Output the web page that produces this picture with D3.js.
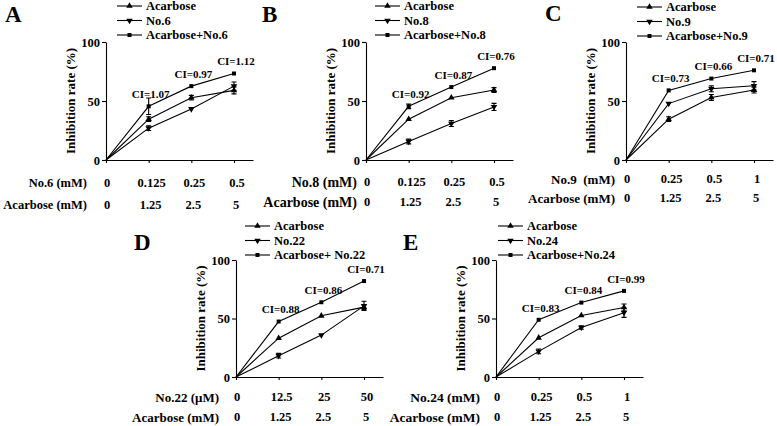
<!DOCTYPE html>
<html>
<head>
<meta charset="utf-8">
<script src="https://cdn.jsdelivr.net/npm/d3@7"></script>
<style>
  body { margin: 0; background: #fff; }
  text { font-family: "Liberation Serif", "Times New Roman", serif; font-weight: bold; fill: #000; }
</style>
</head>
<body>
<script>
const svgWidth = 777
const svgHeight = 426

// data, one entry per panel
const panelNames = ["A", "B", "C", "D", "E"]
const compoundNames = ["No.6", "No.8", "No.9", "No.22", "No.24"]
const comboNames = ["Acarbose+No.6", "Acarbose+No.8", "Acarbose+No.9", "Acarbose+ No.22", "Acarbose+No.24"]
const compoundAxisNames = ["No.6 (mM)", "No.8 (mM)", "No.9  (mM)", "No.22 (\u03bcM)", "No.24 (mM)"]
const compoundDoses = [
  ["0", "0.125", "0.25", "0.5"],
  ["0", "0.125", "0.25", "0.5"],
  ["0", "0.25", "0.5", "1"],
  ["0", "12.5", "25", "50"],
  ["0", "0.25", "0.5", "1"]
]
const acarboseDoses = ["0", "1.25", "2.5", "5"]

const acarboseValues = [
  [0, 34.6, 52.8, 59.0],
  [0, 34.6, 52.8, 59.3],
  [0, 34.6, 53.0, 59.3],
  [0, 33.2, 52.3, 59.7],
  [0, 33.5, 52.6, 59.4]
]
const acarboseErr = [
  [0, 2, 2, 3],
  [0, 1, 1, 2],
  [0, 2, 2.5, 2.5],
  [0, 1, 1, 2],
  [0, 1, 1, 3]
]
const compoundValues = [
  [0, 27.0, 43.3, 62.6],
  [0, 15.7, 30.9, 45.0],
  [0, 47.8, 60.4, 62.9],
  [0, 18.2, 35.8, 60.8],
  [0, 21.9, 42.3, 55.0]
]
const compoundErr = [
  [0, 2, 1, 3.5],
  [0, 2, 2.5, 3],
  [0, 1, 2.5, 3.5],
  [0, 2, 1, 4],
  [0, 2, 1.5, 4]
]
const comboValues = [
  [0, 45.5, 62.6, 73.3],
  [0, 45.5, 61.8, 77.8],
  [0, 59.0, 69.0, 76.0],
  [0, 47.4, 63.9, 82.0],
  [0, 48.9, 63.6, 73.6]
]
const comboErr = [
  [0, 7, 1, 1],
  [0, 2, 1, 1],
  [0, 1, 1, 1],
  [0, 1, 1, 1],
  [0, 1, 1, 1]
]
const ciLabels = [
  ["CI=1.07", "CI=0.97", "CI=1.12"],
  ["CI=0.92", "CI=0.87", "CI=0.76"],
  ["CI=0.73", "CI=0.66", "CI=0.71"],
  ["CI=0.88", "CI=0.86", "CI=0.71"],
  ["CI=0.83", "CI=0.84", "CI=0.99"]
]
const yTicks = [0, 50, 100]

// layout of each panel on the page
const layout = [
  {x: 106, top: 42, bottom: 160, letterX: 5, letterY: 22, legX: 11, legY: 6, row1: 183, row2: 205, labX: 87, rowFont: 12.5},
  {x: 366, top: 42, bottom: 160, letterX: 262, letterY: 22, legX: 9, legY: 6, row1: 182, row2: 202, labX: 357, rowFont: 14},
  {x: 626, top: 42, bottom: 160, letterX: 545, letterY: 21, legX: 11, legY: 7, row1: 179, row2: 198, labX: 615, rowFont: 13},
  {x: 236, top: 260, bottom: 377, letterX: 134, letterY: 250, legX: 9, legY: 226, row1: 397, row2: 417, labX: 219, rowFont: 13},
  {x: 496, top: 260, bottom: 377, letterX: 403, letterY: 250, legX: 2, legY: 226, row1: 397, row2: 417, labX: 480, rowFont: 13.5}
]

const svg = d3.select("body").append("svg")
  .attr("width", svgWidth)
  .attr("height", svgHeight)

const triUp = d3.symbol().type(d3.symbolTriangle).size(18)
const square = d3.symbol().type(d3.symbolSquare).size(16)

panelNames.forEach((name, i) => {
  const L = layout[i]
  const x = d3.scaleLinear().domain([0, 3]).range([L.x, L.x + 128])
  const xAxisScale = d3.scaleLinear().domain([0, 3.45]).range([L.x, L.x + 147])
  const y = d3.scaleLinear().domain([0, 100]).range([L.bottom, L.top])

  svg.append("text")
    .attr("x", L.letterX).attr("y", L.letterY)
    .attr("font-size", "23px")
    .text(name)

  // axes
  svg.append("g")
    .attr("transform", `translate(${L.x},0)`)
    .call(d3.axisLeft(y).tickValues(yTicks).tickSize(4).tickSizeOuter(0))
    .call(g => g.selectAll("text").attr("font-size", "12.5px").attr("dx", "1px"))
  svg.append("g")
    .attr("transform", `translate(0,${L.bottom})`)
    .call(d3.axisBottom(xAxisScale).tickValues([0, 1, 2, 3].map(v => x.invert(x(v)) * 128 / 147 * 3.45 / 3)).tickSize(3).tickSizeOuter(0).tickFormat(""))
  svg.selectAll(".domain, .tick line").attr("stroke", "#000").attr("stroke-width", 1.1)

  svg.append("text")
    .attr("transform", `translate(${L.x - 31},${(L.top + L.bottom) / 2}) rotate(-90)`)
    .attr("text-anchor", "middle")
    .attr("font-size", "13px")
    .text("Inhibition rate (%)")

  // dose rows
  svg.append("text").attr("x", L.labX).attr("y", L.row1).attr("dy", "0.35em")
    .attr("text-anchor", "end").attr("font-size", L.rowFont + "px").style("white-space", "pre")
    .text(compoundAxisNames[i])
  svg.append("text").attr("x", L.labX).attr("y", L.row2).attr("dy", "0.35em")
    .attr("text-anchor", "end").attr("font-size", L.rowFont + "px")
    .text("Acarbose (mM)")
  svg.selectAll(null).data(compoundDoses[i]).enter().append("text")
    .attr("x", (d, j) => x(j) + (j ? 3 : 1)).attr("y", L.row1).attr("dy", "0.35em")
    .attr("text-anchor", "middle").attr("font-size", "12.5px")
    .text(d => d)
  svg.selectAll(null).data(acarboseDoses).enter().append("text")
    .attr("x", (d, j) => x(j) + (j ? 2 : 1)).attr("y", L.row2).attr("dy", "0.35em")
    .attr("text-anchor", "middle").attr("font-size", "12.5px")
    .text(d => d)

  const series = [
    {vals: acarboseValues[i], err: acarboseErr[i], sym: triUp, rot: 0, label: "Acarbose"},
    {vals: compoundValues[i], err: compoundErr[i], sym: triUp, rot: 180, label: compoundNames[i]},
    {vals: comboValues[i], err: comboErr[i], sym: square, rot: 0, label: comboNames[i]}
  ]

  const line = d3.line().x((d, j) => x(j)).y(d => y(d))

  series.forEach((s, k) => {
    const g = svg.append("g")
    g.append("path").attr("d", line(s.vals))
      .attr("fill", "none").attr("stroke", "#000").attr("stroke-width", 1.1)
    const pts = s.vals.map((v, j) => ({v, e: s.err[j], j})).filter(p => p.j > 0)
    pts.forEach(p => {
      if (p.e > 1) {
        g.append("path")
          .attr("d", `M${x(p.j)},${y(p.v - p.e)}V${y(p.v + p.e)}M${x(p.j) - 2.5},${y(p.v - p.e)}h5M${x(p.j) - 2.5},${y(p.v + p.e)}h5`)
          .attr("stroke", "#000").attr("stroke-width", 1.1).attr("fill", "none")
      }
      g.append("path").attr("d", s.sym())
        .attr("transform", `translate(${x(p.j)},${y(p.v)}) rotate(${s.rot})`)
        .attr("fill", "#000")
    })

    // legend
    const ly = L.legY + k * 14.5
    const lx = L.x + L.legX
    svg.append("line").attr("x1", lx).attr("x2", lx + 25).attr("y1", ly).attr("y2", ly)
      .attr("stroke", "#000").attr("stroke-width", 1.1)
    svg.append("path").attr("d", s.sym())
      .attr("transform", `translate(${lx + 12.5},${ly}) rotate(${s.rot})`)
      .attr("fill", "#000")
    svg.append("text").attr("x", lx + 29).attr("y", ly).attr("dy", "0.35em")
      .attr("font-size", "12.5px")
      .text(s.label)
  })

  // CI labels above combination points
  svg.selectAll(null).data(ciLabels[i]).enter().append("text")
    .attr("x", (d, j) => x(j + 1) + 2)
    .attr("y", (d, j) => y(comboValues[i][j + 1]) - 12)
    .attr("dy", "0.35em")
    .attr("text-anchor", "middle")
    .attr("font-size", "11px")
    .text(d => d)
})
</script>
</body>
</html>
